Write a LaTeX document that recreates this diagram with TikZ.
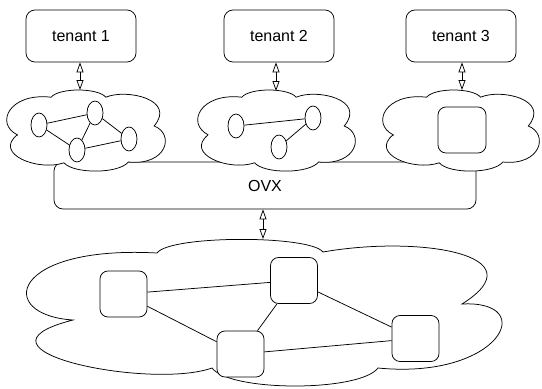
\documentclass[tikz,border=0pt]{standalone}
\usepackage{fontspec}
\setmainfont{Liberation Sans}
\usetikzlibrary{arrows.meta,shapes.geometric}
\newcommand{\smallcloudpath}{(0.07,0.56) .. controls (-0.07,0.42) and (0.02,0.03) .. (0.28,0.09) .. controls (0.33,-0.03) and (0.57,-0.03) .. (0.62,0.09) .. controls (0.75,-0.02) and (1.06,0.12) .. (0.92,0.45) .. controls (1.05,0.55) and (1.0,0.95) .. (0.76,0.9) .. controls (0.7,1.05) and (0.42,1.05) .. (0.36,0.91) .. controls (0.2,1.02) and (-0.08,0.8) .. cycle}
\begin{document}
\begin{tikzpicture}[x=1pt,y=-1pt,line width=0.75pt,
  tenantbox/.style={draw, rounded corners=9pt, minimum width=110pt, minimum height=52pt, inner sep=0pt, font=\fontsize{16}{19}\selectfont},
  ovxbox/.style={draw, rounded corners=9pt, minimum width=422pt, minimum height=47pt, inner sep=0pt, font=\fontsize{16}{19}\selectfont},
  vnode/.style={draw, ellipse, minimum width=16pt, minimum height=24pt, inner sep=0pt, fill=white},
  snode/.style={draw, rounded corners=8pt, minimum width=47pt, minimum height=46pt, inner sep=0pt, fill=white},
  link/.style={draw},
  biarrow/.style={{Triangle[open,width=7pt,length=10pt]}-{Triangle[open,width=7pt,length=10pt]}},
  cloudshape/.style={draw, fill=white}
]
\useasboundingbox (0,0) rectangle (542,389);

% tenants
\node[tenantbox] (t1) at (81,36) {tenant 1};
\node[tenantbox] (t2) at (279,36) {tenant 2};
\node[tenantbox] (t3) at (461,36) {tenant 3};

% OVX layer
\node[ovxbox] (ovx) at (265,185.5) {OVX};

% small clouds
\begin{scope}[shift={(6,90)},xscale=161,yscale=80]
  \draw[cloudshape] \smallcloudpath;
\end{scope}
\begin{scope}[shift={(197,90)},xscale=160,yscale=80]
  \draw[cloudshape] \smallcloudpath;
\end{scope}
\begin{scope}[shift={(382,90)},xscale=159,yscale=80]
  \draw[cloudshape] \smallcloudpath;
\end{scope}

% big cloud
\draw[cloudshape] (73,320) .. controls (-5,315) and (10,245) .. (157,253)
  .. controls (170,235) and (310,235) .. (323,252)
  .. controls (420,235) and (540,255) .. (462,304)
  .. controls (540,300) and (500,380) .. (378,368)
  .. controls (360,392) and (230,392) .. (212,368)
  .. controls (150,390) and (-45,350) .. cycle;

\coordinate (c1top) at (80,90);
\coordinate (c2top) at (276,91);
\coordinate (c3top) at (462,90);
\coordinate (bigtop) at (263,239);

% arrows
\draw[biarrow] (t1.south -| c1top) -- (c1top);
\draw[biarrow] (t2.south -| c2top) -- (c2top);
\draw[biarrow] (t3.south -| c3top) -- (c3top);
\draw[biarrow] (ovx.south -| bigtop) -- (bigtop);

% tenant 1 virtual network
\node[vnode] (n1) at (39,125) {};
\node[vnode] (n2) at (95,113) {};
\node[vnode] (n3) at (77,150) {};
\node[vnode] (n4) at (129,139) {};
\draw[link] (n1) -- (n2);
\draw[link] (n1) -- (n3);
\draw[link] (n2) -- (n3);
\draw[link] (n2) -- (n4);
\draw[link] (n3) -- (n4);

% tenant 2 virtual network
\node[vnode] (m1) at (236,126) {};
\node[vnode] (m2) at (313,118) {};
\node[vnode] (m3) at (279,147) {};
\draw[link] (m1) -- (m2);
\draw[link] (m2) -- (m3);

% tenant 3 virtual network
\node[snode, minimum width=48pt] (k1) at (462,130) {};

% physical network
\node[snode] (a) at (123.5,294) {};
\node[snode] (b) at (294,280.5) {};
\node[snode] (c) at (240.5,354) {};
\node[snode] (d) at (415.5,338.5) {};
\draw[link] (a) -- (b);
\draw[link] (a) -- (c);
\draw[link] (b) -- (c);
\draw[link] (b) -- (d);
\draw[link] (c) -- (d);
\end{tikzpicture}
\end{document}
